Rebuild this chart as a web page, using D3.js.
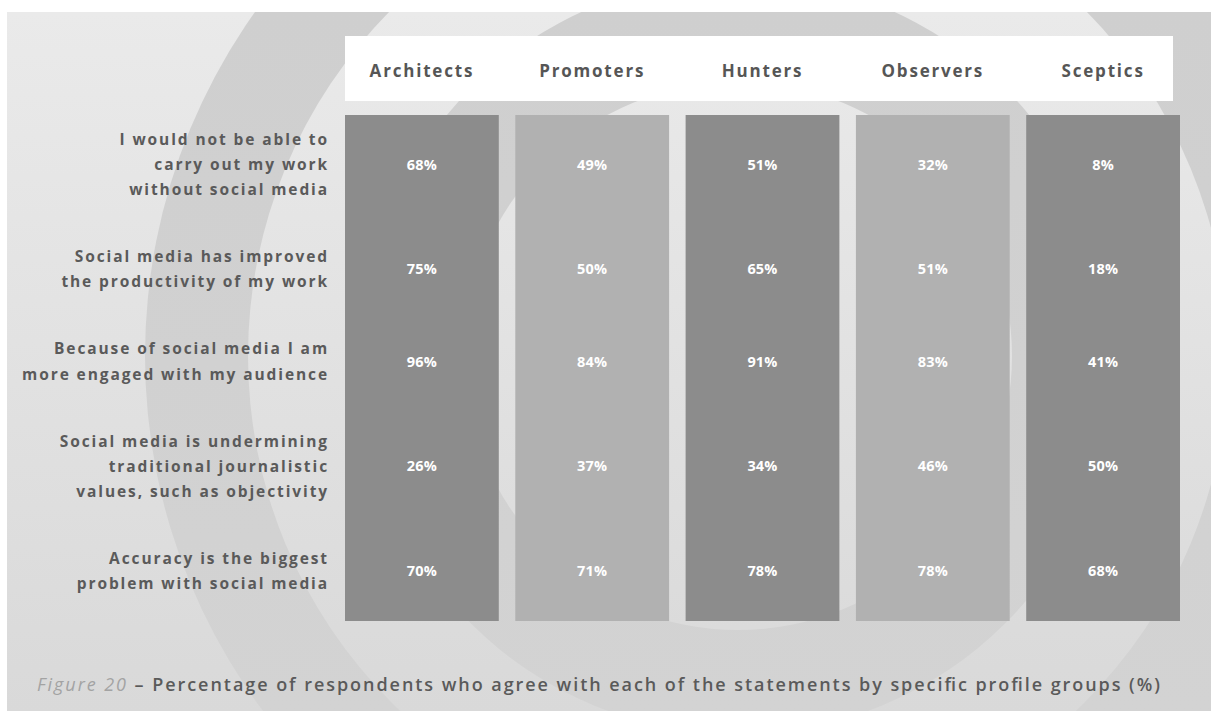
<!DOCTYPE html>
<html>
<head>
<meta charset="utf-8">
<script src="https://cdn.jsdelivr.net/npm/d3@7"></script>
<style>
  html, body { margin: 0; padding: 0; background: #ffffff; }
  svg { display: block; }
  text { font-family: "Open Sans", "DejaVu Sans", sans-serif; }
</style>
</head>
<body>
<svg id="chart" width="1211" height="711"></svg>
<script>
// ---------------- DATA ----------------
const groups = ["Architects", "Promoters", "Hunters", "Observers", "Sceptics"];
const statements = [
  ["I would not be able to", "carry out my work", "without social media"],
  ["Social media has improved", "the productivity of my work"],
  ["Because of social media I am", "more engaged with my audience"],
  ["Social media is undermining", "traditional journalistic", "values, such as objectivity"],
  ["Accuracy is the biggest", "problem with social media"]
];
const architects = [68, 75, 96, 26, 70];
const promoters  = [49, 50, 84, 37, 71];
const hunters    = [51, 65, 91, 34, 78];
const observers  = [32, 51, 83, 46, 78];
const sceptics   = [8, 18, 41, 50, 68];
const seriesValues = [architects, promoters, hunters, observers, sceptics];
const captionLead = "Figure 20";
const captionText = " \u2013 Percentage of respondents who agree with each of the statements by specific profile groups (%)";

// ---------------- LAYOUT ----------------
const W = 1211, H = 711;
const svg = d3.select("#chart");
const defs = svg.append("defs");

// Background panel with concentric rings
const panel = { x: 7, y: 12, w: W - 7, h: H - 12 };
defs.append("clipPath").attr("id", "panelClip")
  .append("rect").attr("x", panel.x).attr("y", panel.y).attr("width", panel.w).attr("height", panel.h);

const lightGrad = defs.append("linearGradient").attr("id", "lightGrad")
  .attr("gradientUnits", "userSpaceOnUse").attr("x1", 0).attr("y1", panel.y).attr("x2", 0).attr("y2", H);
lightGrad.append("stop").attr("offset", "0%").attr("stop-color", "#eaeaea");
lightGrad.append("stop").attr("offset", "100%").attr("stop-color", "#d9d9d9");
const darkGrad = defs.append("linearGradient").attr("id", "darkGrad")
  .attr("gradientUnits", "userSpaceOnUse").attr("x1", 0).attr("y1", panel.y).attr("x2", 0).attr("y2", H);
darkGrad.append("stop").attr("offset", "0%").attr("stop-color", "#cfcfcf");
darkGrad.append("stop").attr("offset", "100%").attr("stop-color", "#d3d3d3");

const bg = svg.append("g").attr("clip-path", "url(#panelClip)");
bg.append("rect").attr("x", panel.x).attr("y", panel.y).attr("width", panel.w).attr("height", panel.h)
  .attr("fill", "url(#lightGrad)");
const ringCenter = [738, 356];
const rings = [593, 490, 378, 274];
bg.selectAll("circle.ring").data(rings).join("circle")
  .attr("class", "ring")
  .attr("cx", ringCenter[0]).attr("cy", ringCenter[1])
  .attr("r", d => d)
  .attr("fill", (d, i) => i % 2 === 0 ? "url(#darkGrad)" : "url(#lightGrad)");

// Scales
const x = d3.scaleBand().domain(groups).range([345, 1180]).paddingInner(0.097).paddingOuter(0);

// Row layout: lines stacked with a gap between statements
const gapUnits = 1.68;
const lineUnits = [];
const rowCenterUnits = [];
let u = 0;
statements.forEach((lines, i) => {
  const start = u;
  lineUnits.push(lines.map((l, j) => start + j));
  rowCenterUnits.push(start + (lines.length - 1) / 2);
  u = start + lines.length + gapUnits;
});
const lastUnit = lineUnits[lineUnits.length - 1].slice(-1)[0];
const y = d3.scaleLinear().domain([0, lastUnit]).range([139, 583]);

const colTop = 115, colBottom = 621;
const colColor = d3.scaleOrdinal().domain(groups).range(["#8c8c8c", "#b1b1b1", "#8c8c8c", "#b1b1b1", "#8c8c8c"]);

// Header box
svg.append("rect").attr("x", 345).attr("y", 36).attr("width", 1173 - 345).attr("height", 65).attr("fill", "#ffffff");
svg.append("g").selectAll("text").data(groups).join("text")
  .attr("x", d => x(d) + x.bandwidth() / 2)
  .attr("y", 70)
  .attr("text-anchor", "middle")
  .attr("dominant-baseline", "central")
  .attr("font-size", 17)
  .attr("font-weight", 700)
  .attr("letter-spacing", 1.8)
  .attr("fill", "#565656")
  .text(d => d);

// Columns
svg.append("g").selectAll("rect").data(groups).join("rect")
  .attr("x", d => x(d))
  .attr("y", colTop)
  .attr("width", x.bandwidth())
  .attr("height", colBottom - colTop)
  .attr("fill", d => colColor(d));

// Values
const cells = [];
groups.forEach((g, gi) => seriesValues[gi].forEach((v, ri) => cells.push({ g, ri, v })));
svg.append("g").selectAll("text").data(cells).join("text")
  .attr("x", d => x(d.g) + x.bandwidth() / 2)
  .attr("y", d => y(rowCenterUnits[d.ri]))
  .attr("text-anchor", "middle")
  .attr("dominant-baseline", "central")
  .attr("font-size", 14.5)
  .attr("font-weight", 700)
  .attr("letter-spacing", 0.2)
  .attr("fill", "#ffffff")
  .text(d => d.v + "%");

// Row labels
const labelG = svg.append("g");
statements.forEach((lines, i) => {
  labelG.selectAll(null).data(lines).join("text")
    .attr("x", 329)
    .attr("y", (d, j) => y(lineUnits[i][j]))
    .attr("text-anchor", "end")
    .attr("dominant-baseline", "central")
    .attr("font-size", 15.5)
    .attr("font-weight", 700)
    .attr("letter-spacing", 1.9)
    .attr("fill", "#5a5a5a")
    .text(d => d);
});

// Caption
const cap = svg.append("text")
  .attr("x", 37).attr("y", 684)
  .attr("dominant-baseline", "central")
  .attr("font-size", 18)
  .attr("textLength", 1123)
  .attr("lengthAdjust", "spacing");
cap.append("tspan").attr("font-style", "italic").attr("fill", "#a3a3a3").text(captionLead);
cap.append("tspan").attr("font-weight", 600).attr("fill", "#5a5a5a").text(captionText);
</script>
</body>
</html>
